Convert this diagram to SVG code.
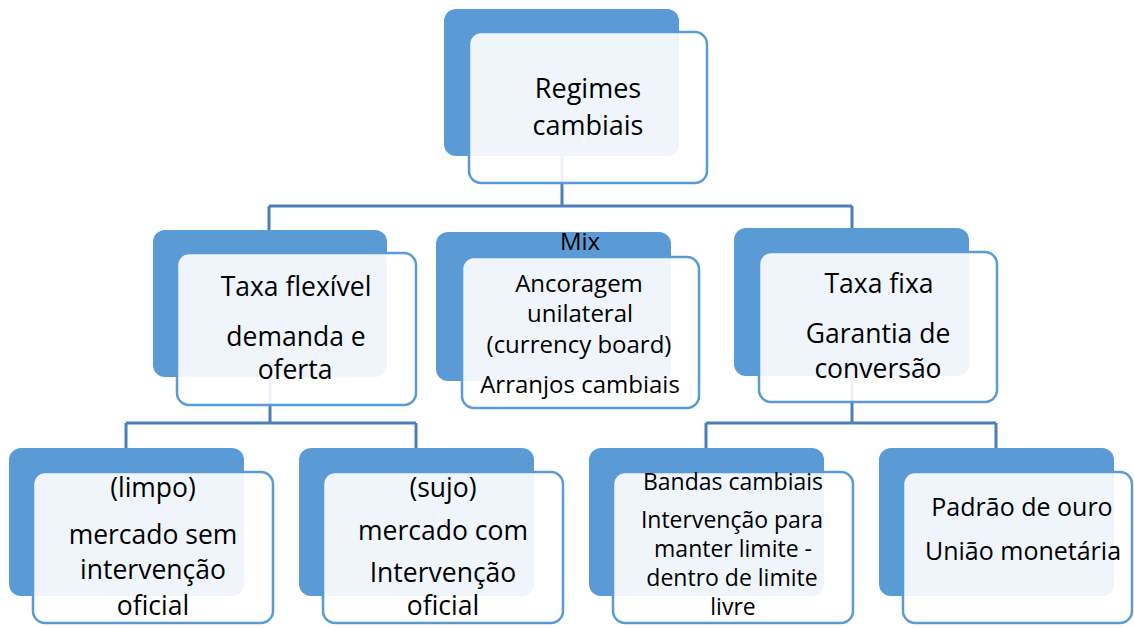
<svg xmlns="http://www.w3.org/2000/svg" width="1134" height="628" viewBox="0 0 1134 628">
<style>
.bk{fill:#5B9BD5}
.fr{fill:#ffffff;fill-opacity:0.9;stroke:#5B9BD5;stroke-width:2.5}
.cn{fill:none;stroke:#4A7EBB;stroke-width:3}
text{font-family:"Open Sans","Noto Sans","Liberation Sans",sans-serif;fill:#000;text-anchor:middle}
.t27{font-size:27px}
.t26{font-size:26.5px}
.t24{font-size:24px}
.t23{font-size:23px}
.t25{font-size:25px}
</style>
<rect width="1134" height="628" fill="#ffffff"/>
<g id="connectors">
<path class="cn" d="M562,156 V206 M269,206 H852 M269,206 V232 M852,206 V230"/>
<path class="cn" d="M270,377 V423 M126,423 H416 M126,423 V448 M416,423 V448"/>
<path class="cn" d="M852,376 V423 M706,423 H996 M706,423 V448 M996,423 V448"/>
</g>
<g id="node-regimes">
<rect class="bk" x="444" y="9" width="235" height="147" rx="12"/>
<rect class="fr" x="469" y="32" width="238" height="151" rx="12"/>
<text class="t27" x="588" y="98">Regimes</text>
<text class="t27" x="588" y="135">cambiais</text>
</g>
<g id="node-flexivel">
<rect class="bk" x="153" y="230" width="234" height="147" rx="12"/>
<rect class="fr" x="177" y="253" width="239" height="152" rx="12"/>
<text class="t26" x="296" y="296">Taxa flexível</text>
<text class="t26" x="296" y="346">demanda e</text>
<text class="t26" x="295" y="379">oferta</text>
</g>
<g id="node-mix">
<rect class="bk" x="436" y="232" width="235" height="149" rx="12"/>
<rect class="fr" x="462" y="257" width="237" height="151" rx="12"/>
<text class="t24" x="580" y="250">Mix</text>
<text class="t24" x="579" y="292">Ancoragem</text>
<text class="t24" x="580" y="322">unilateral</text>
<text class="t24" x="579" y="353">(currency board)</text>
<text class="t24" x="580" y="393">Arranjos cambiais</text>
</g>
<g id="node-fixa">
<rect class="bk" x="734" y="228" width="235" height="148" rx="12"/>
<rect class="fr" x="759" y="252" width="238" height="150" rx="12"/>
<text class="t26" x="879" y="293">Taxa fixa</text>
<text class="t26" x="878" y="343">Garantia de</text>
<text class="t26" x="878" y="378">conversão</text>
</g>
<g id="node-limpo">
<rect class="bk" x="9" y="448" width="235" height="148" rx="12"/>
<rect class="fr" x="33" y="472" width="240" height="151" rx="12"/>
<text class="t26" x="153" y="497">(limpo)</text>
<text class="t26" x="153" y="544">mercado sem</text>
<text class="t26" x="153" y="579">intervenção</text>
<text class="t26" x="153" y="615">oficial</text>
</g>
<g id="node-sujo">
<rect class="bk" x="299" y="448" width="235" height="148" rx="12"/>
<rect class="fr" x="323" y="472" width="240" height="151" rx="12"/>
<text class="t26" x="443" y="497">(sujo)</text>
<text class="t26" x="443" y="540">mercado com</text>
<text class="t26" x="443" y="582">Intervenção</text>
<text class="t26" x="443" y="615">oficial</text>
</g>
<g id="node-bandas">
<rect class="bk" x="589" y="448" width="235" height="148" rx="12"/>
<rect class="fr" x="613" y="472" width="240" height="151" rx="12"/>
<text class="t23" x="733" y="490">Bandas cambiais</text>
<text class="t23" x="732" y="528">Intervenção para</text>
<text class="t23" x="733" y="557">manter limite -</text>
<text class="t23" x="732" y="586">dentro de limite</text>
<text class="t23" x="733" y="615">livre</text>
</g>
<g id="node-padrao">
<rect class="bk" x="879" y="448" width="235" height="148" rx="12"/>
<rect class="fr" x="903" y="472" width="229" height="151" rx="12"/>
<text class="t25" x="1022" y="516">Padrão de ouro</text>
<text class="t25" x="1023" y="560">União monetária</text>
</g>
</svg>
